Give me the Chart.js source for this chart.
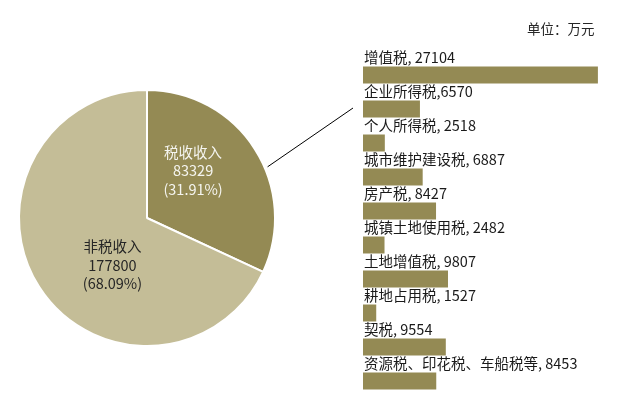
<!DOCTYPE html>
<html>
<head>
<meta charset="utf-8">
<script src="https://cdn.jsdelivr.net/npm/chart.js@4/dist/chart.umd.min.js"></script>
<style>
  body { margin: 0; background: #fff; }
  #wrap { position: relative; width: 640px; height: 408px; overflow: hidden; }
  #pieChart { position: absolute; left: 0; top: 0; }
  #barChart { position: absolute; left: 355px; top: 0; }
  #unit {
    position: absolute; left: 527px; top: 18px;
    font: 13.5px "Noto Sans CJK SC", "Noto Sans", sans-serif; color: #262626;
  }
</style>
</head>
<body>
<div id="wrap">
  <canvas id="pieChart" width="360" height="408"></canvas>
  <canvas id="barChart" width="285" height="408"></canvas>
  <div id="unit">单位：万元</div>
</div>
<script>
// pie: total revenue split
const pieCategories = ["税收收入", "非税收入"];
const pieValues = [83329, 177800];
const pieColors = ["#948A54", "#C4BD97"];

// bars: tax breakdown
const taxCategories = ["增值税", "企业所得税", "个人所得税", "城市维护建设税", "房产税",
    "城镇土地使用税", "土地增值税", "耕地占用税", "契税", "资源税、印花税、车船税等"];
const taxValues = [27104, 6570, 2518, 6887, 8427, 2482, 9807, 1527, 9554, 8453];
const taxSeparators = [", ", ",", ", ", ", ", ", ", ", ", ", ", ", ", ", ", ", "];

const FONT = '"Noto Sans CJK SC", "Noto Sans", sans-serif';

// text inside the slices + the leader line to the bars
const pieLabels = {
    id: "pieLabels",
    afterDatasetsDraw(chart) {
        const ctx = chart.ctx;
        const arcs = chart.getDatasetMeta(0).data;
        const total = pieValues.reduce((a, b) => a + b, 0);
        const offsets = [[0.36, -0.37], [-0.27, 0.37]];
        const colors = ["#F5F5F0", "#262626"];

        ctx.save();
        ctx.font = "14.5px " + FONT;
        ctx.textAlign = "center";
        ctx.textBaseline = "middle";
        arcs.forEach((arc, i) => {
            const r = arc.outerRadius;
            const cx = arc.x + offsets[i][0] * r;
            const cy = arc.y + offsets[i][1] * r;
            const pct = (pieValues[i] / total * 100).toFixed(2);
            const lines = [pieCategories[i], String(pieValues[i]), "(" + pct + "%)"];
            ctx.fillStyle = colors[i];
            lines.forEach((t, k) => ctx.fillText(t, cx, cy + (k - 1) * 18.5));
        });

        // leader line from the tax slice edge
        const arc = arcs[0];
        const a = (67 - 90) * Math.PI / 180;
        const sx = arc.x + (arc.outerRadius + 3) * Math.cos(a);
        const sy = arc.y + (arc.outerRadius + 3) * Math.sin(a);
        ctx.strokeStyle = "#000";
        ctx.lineWidth = 1;
        ctx.beginPath();
        ctx.moveTo(sx, sy);
        ctx.lineTo(353, 108);
        ctx.stroke();
        ctx.restore();
    }
};

new Chart(document.getElementById("pieChart").getContext("2d"), {
    type: "pie",
    data: {
        labels: pieCategories,
        datasets: [
            {
                data: pieValues,
                backgroundColor: pieColors,
                borderColor: "#fff",
                borderWidth: 2
            }
        ]
    },
    options: {
        responsive: false,
        animation: false,
        layout: { padding: { left: 18, top: 89, right: 84, bottom: 61 } },
        plugins: {
            legend: { display: false },
            tooltip: { enabled: false }
        }
    },
    plugins: [pieLabels]
});

// category text above each bar
const barLabels = {
    id: "barLabels",
    afterDatasetsDraw(chart) {
        const ctx = chart.ctx;
        const bars = chart.getDatasetMeta(0).data;
        ctx.save();
        ctx.font = "14.5px " + FONT;
        ctx.fillStyle = "#1a1a1a";
        ctx.textAlign = "left";
        ctx.textBaseline = "alphabetic";
        bars.forEach((bar, i) => {
            const top = bar.y - bar.height / 2;
            ctx.fillText(taxCategories[i] + taxSeparators[i] + taxValues[i], bar.base + 1, top - 4);
        });
        ctx.restore();
    }
};

new Chart(document.getElementById("barChart").getContext("2d"), {
    type: "bar",
    data: {
        labels: taxCategories,
        datasets: [
            {
                data: taxValues,
                backgroundColor: "#948A54",
                barPercentage: 0.5,
                categoryPercentage: 1.0
            }
        ]
    },
    options: {
        indexAxis: "y",
        responsive: false,
        animation: false,
        layout: { padding: { left: 8, top: 58, right: 17, bottom: 10 } },
        plugins: {
            legend: { display: false },
            tooltip: { enabled: false }
        },
        scales: {
            x: { display: false, min: 0, max: 30000 },
            y: { display: false }
        }
    },
    plugins: [barLabels]
});
</script>
</body>
</html>
